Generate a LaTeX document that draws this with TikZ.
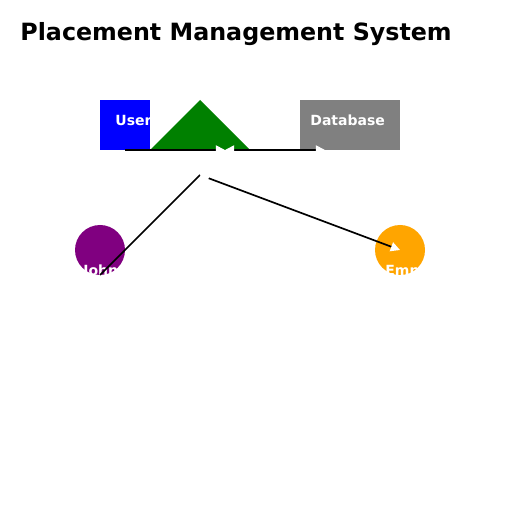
\documentclass[tikz,border=0pt]{standalone}
\usepackage{fontspec}
\setmainfont{DejaVu Sans}
\usetikzlibrary{arrows.meta}
\definecolor{cblue}{HTML}{0000FF}
\definecolor{cgreen}{HTML}{008000}
\definecolor{cgray}{HTML}{808080}
\definecolor{cpurple}{HTML}{800080}
\definecolor{corange}{HTML}{FFA500}
\tikzset{
  box/.style={draw=none, minimum width=25pt, minimum height=25pt, inner sep=0pt, outer sep=0pt},
  circ/.style={circle, draw=none, minimum size=25pt, inner sep=0pt, outer sep=0pt},
  lbl/.style={text=white, font=\bfseries\fontsize{7pt}{8pt}\selectfont, inner sep=0pt, anchor=base west},
  conn/.style={line width=0.85pt, black},
  wtip/.style={-{Triangle[length=4.6pt,width=4.6pt,color=white,fill=white]}},
  wtips/.style={{Triangle[length=4.6pt,width=4.6pt,color=white,fill=white]}-{Triangle[length=4.6pt,width=4.6pt,color=white,fill=white]}},
}
\begin{document}
\begin{tikzpicture}[x=0.5pt,y=-0.5pt]
\useasboundingbox[fill=white] (0,0) rectangle (512,512);
\node[anchor=base west, inner sep=0pt, font=\bfseries\fontsize{11.88pt}{14pt}\selectfont] (title) at (20,41) {Placement Management System};
% shapes
\node[box, fill=cblue, minimum width=25pt] (user) at (125,125) {};
\node[box, fill=cgray, minimum width=50pt] (db) at (350,125) {};
\fill[cgreen] (150,150) -- (200,100) -- (250,150) -- cycle;
\coordinate (tri) at (200,125);
\node[circ, fill=cpurple] (john) at (100,250) {};
\node[circ, fill=corange] (emp) at (400,250) {};
% labels
\node[lbl] (userl) at (115,126) {User};
\node[lbl] (dbl) at (310,126) {Database};
\node[lbl] (johnl) at (83,276) {John};
\node[lbl] (empl) at (385,276) {Employer};
% connector points
\coordinate (ua) at (125,150);
\coordinate (ta) at (225,150);
\coordinate (da) at (325,150);
\coordinate (ja) at (100,275);
\coordinate (tb) at (200,175);
% connectors
\draw[conn, wtip] (ua) -- (ta);
\draw[conn, wtips] (ta) -- (da);
\draw[conn] (ja) -- (tb);
\draw[conn, wtips] (tb) -- (emp.center);
\end{tikzpicture}
\end{document}
